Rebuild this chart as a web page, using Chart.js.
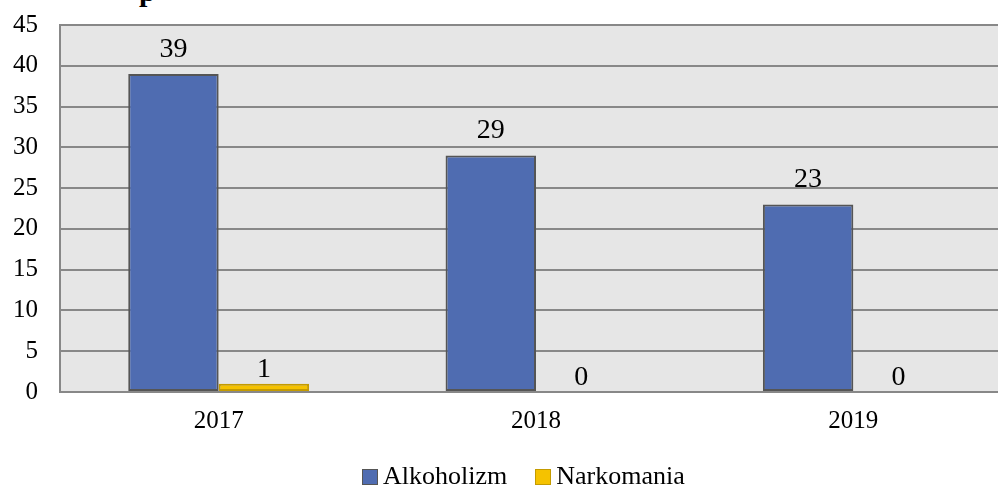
<!DOCTYPE html>
<html>
<head>
<meta charset="utf-8">
<script src="https://cdn.jsdelivr.net/npm/chart.js@4.4.0/dist/chart.umd.min.js"></script>
<style>
  body { margin: 0; overflow: hidden; background: #fff; }
  #wrap { position: relative; width: 998px; height: 487px; overflow: hidden; }
  #box { position: absolute; left: 0; top: 0; width: 1012px; height: 487px; }
  #titleCut { position: absolute; left: 139px; top: -24px; font: bold 30px/30px "Liberation Serif", serif; color: #000; }
  #chartLegend { position: absolute; left: 362px; top: 463px; display: flex; font: 26px/26px "Liberation Serif", serif; color: #000; }
  #chartLegend .item { display: flex; align-items: flex-start; margin-right: 28px; }
  #chartLegend .sw { width: 14px; height: 14px; border: 1px solid #595959; margin: 6px 5px 0 0; }
</style>
</head>
<body>
<div id="wrap">
  <div id="titleCut">p</div>
  <div id="box"><canvas id="barChart"></canvas></div>
  <div id="chartLegend"></div>
</div>
<script>
const categories = ["2017", "2018", "2019"];
const alkoholizm = [39, 29, 23];
const narkomania = [1, 0, 0];
const seriesNames = ["Alkoholizm", "Narkomania"];
const yMax = 45;
const yStep = 5;

const serif = "'Liberation Serif', 'Times New Roman', serif";

// grey plot background behind the bars
const plotBackground = {
  id: "plotBackground",
  beforeDraw(chart) {
    const { ctx, chartArea } = chart;
    ctx.save();
    ctx.fillStyle = "#e6e6e6";
    ctx.fillRect(chartArea.left, chartArea.top, chartArea.right - chartArea.left, chartArea.bottom - chartArea.top);
    ctx.restore();
  }
};

// value labels above every bar
const valueLabels = {
  id: "valueLabels",
  afterDatasetsDraw(chart) {
    const { ctx } = chart;
    const gaps = [17, 7];
    ctx.save();
    ctx.font = "28px " + serif;
    ctx.fillStyle = "#000";
    ctx.textAlign = "center";
    ctx.textBaseline = "alphabetic";
    chart.data.datasets.forEach((ds, i) => {
      chart.getDatasetMeta(i).data.forEach((bar, j) => {
        ctx.fillText(String(ds.data[j]), bar.x, bar.y - gaps[i]);
      });
    });
    ctx.restore();
  }
};

const myChart = new Chart(document.getElementById("barChart").getContext("2d"), {
  type: "bar",
  data: {
    labels: categories,
    datasets: [
      {
        label: seriesNames[0],
        data: alkoholizm,
        backgroundColor: "#4f6cb1",
        borderColor: "#555555",
        borderWidth: 2,
        borderSkipped: false
      },
      {
        label: seriesNames[1],
        data: narkomania,
        backgroundColor: "#f5c200",
        borderColor: "#c49b00",
        borderWidth: 2,
        borderSkipped: false
      }
    ]
  },
  options: {
    responsive: true,
    maintainAspectRatio: false,
    animation: false,
    layout: { padding: { top: 25, right: 0, left: 0, bottom: 0 } },
    datasets: {
      bar: { categoryPercentage: 0.57, barPercentage: 1 }
    },
    plugins: {
      legend: { display: false },
      tooltip: { enabled: false }
    },
    scales: {
      x: {
        grid: { display: false },
        border: { display: false },
        ticks: { color: "#000", font: { family: serif, size: 25 }, padding: 6 },
        afterFit(scale) { scale.height = 95; }
      },
      y: {
        min: 0,
        max: yMax,
        ticks: { stepSize: yStep, color: "#000", font: { family: serif, size: 25 }, padding: 22 },
        grid: { color: "#888888", lineWidth: 2, drawTicks: false },
        border: { display: true, color: "#888888", width: 2 },
        afterFit(scale) {
          scale.width = 60;
          scale.paddingTop = 0;
          scale.paddingBottom = 0;
        }
      }
    }
  },
  plugins: [plotBackground, valueLabels]
});

// html legend from the chart's datasets
document.getElementById("chartLegend").innerHTML = myChart.data.datasets
  .map(ds => '<div class="item"><span class="sw" style="background:' + ds.backgroundColor + ';border-color:' + ds.borderColor + '"></span>' + ds.label + "</div>")
  .join("");
</script>
</body>
</html>
